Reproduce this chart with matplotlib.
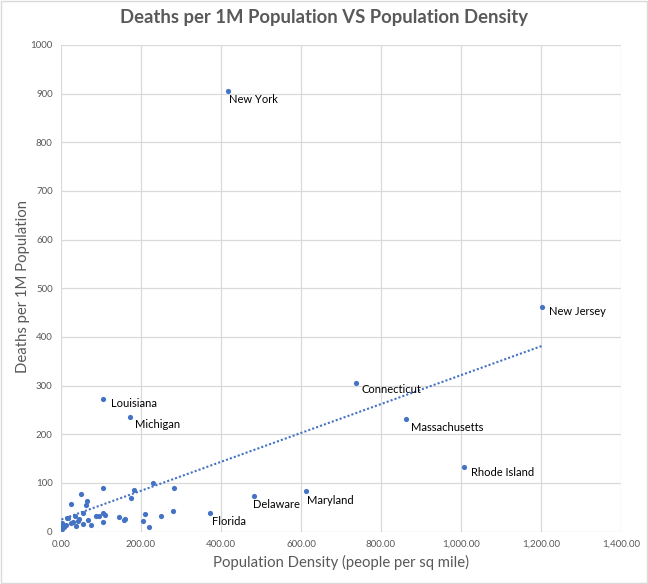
import numpy as np
import matplotlib
matplotlib.use("Agg")
import matplotlib.pyplot as plt
from matplotlib.ticker import FuncFormatter, MultipleLocator
from matplotlib.patches import Rectangle

plt.rcParams['font.family'] = ['Lato', 'DejaVu Sans']

# labelled states
label_names = ['New York', 'New Jersey', 'Connecticut', 'Massachusetts', 'Rhode Island',
               'Maryland', 'Delaware', 'Florida', 'Louisiana', 'Michigan']
label_density = [417, 1203, 738, 863, 1008, 612, 483, 373, 106, 173]
label_deaths = [905, 461, 305, 231, 133, 83, 73, 38, 273, 235]

# the other states (no labels)
other_density = [106, 183, 176, 231, 283, 281, 210, 206, 221, 249,
                 51, 26, 66, 63, 56, 35, 18, 24, 42, 67,
                 56, 75, 37, 88, 94, 106, 110, 104, 146, 158,
                 161, 2, 3, 8, 12, 6, 46, 30, 14, 1]
other_deaths = [89, 85, 69, 99, 89, 42, 36, 21, 9, 32,
                77, 56, 62, 55, 38, 32, 27, 17, 22, 24,
                16, 13, 11, 32, 32, 38, 33, 20, 29, 24,
                26, 17, 5, 10, 14, 12, 26, 20, 27, 14]

# label offsets in pixels (dx, dy)
label_offsets = {
    'New York': (1, -8), 'New Jersey': (7, -4), 'Connecticut': (5, -6),
    'Massachusetts': (5, -8), 'Rhode Island': (7, -6), 'Maryland': (1, -9),
    'Delaware': (-1, -9), 'Florida': (2, -8), 'Louisiana': (8, -5), 'Michigan': (5, -7),
}

grey = '#595959'
blue = '#4472C4'

fig = plt.figure(figsize=(6.48, 5.84), dpi=100)
ax = fig.add_axes([61 / 648, 1 - 531.5 / 584, 560 / 648, 486.5 / 584])

x_all = np.array(label_density + other_density, dtype=float)
y_all = np.array(label_deaths + other_deaths, dtype=float)

ax.scatter(x_all, y_all, s=14, color=blue, zorder=3, linewidths=0)

# linear trendline over the data range
k, b = np.polyfit(x_all, y_all, 1)
xt = np.array([x_all.min(), x_all.max()])
ax.plot(xt, k * xt + b, color=blue, linestyle=(0, (1, 1)), linewidth=1.5, zorder=2)

for name, xv, yv in zip(label_names, label_density, label_deaths):
    dx, dy = label_offsets[name]
    ax.annotate(name, (xv, yv), xytext=(dx * 0.72, dy * 0.72), textcoords='offset points',
                ha='left', va='center', fontsize=8, color='black')

ax.set_xlim(0, 1400)
ax.set_ylim(0, 1000)
ax.xaxis.set_major_locator(MultipleLocator(200))
ax.yaxis.set_major_locator(MultipleLocator(100))
ax.xaxis.set_major_formatter(FuncFormatter(lambda v, p: f'{v:,.2f}'))
ax.yaxis.set_major_formatter(FuncFormatter(lambda v, p: f'{v:.0f}'))
ax.tick_params(length=0, labelsize=7, colors=grey, pad=6)
ax.grid(True, color='#d9d9d9', linewidth=0.9)
ax.set_axisbelow(True)
for s in ax.spines.values():
    s.set_visible(False)

fig.text(341 / 648, 1 - 562 / 584, 'Population Density (people per sq mile)',
         ha='center', va='center', fontsize=10.7, color=grey)
fig.text(23 / 648, 1 - 286 / 584, 'Deaths per 1M Population', rotation=90,
         ha='center', va='center', fontsize=10.7, color=grey)
fig.text(0.5, 1 - 18 / 584, 'Deaths per 1M Population VS Population Density',
         ha='center', va='center', fontsize=13.3, fontweight='bold', color=grey)

fig.patches.append(Rectangle((0.002, 0.002), 0.996, 0.996, transform=fig.transFigure,
                             fill=False, edgecolor='#d9d9d9', linewidth=1))

fig.savefig('out.png', dpi=100, facecolor='white')
